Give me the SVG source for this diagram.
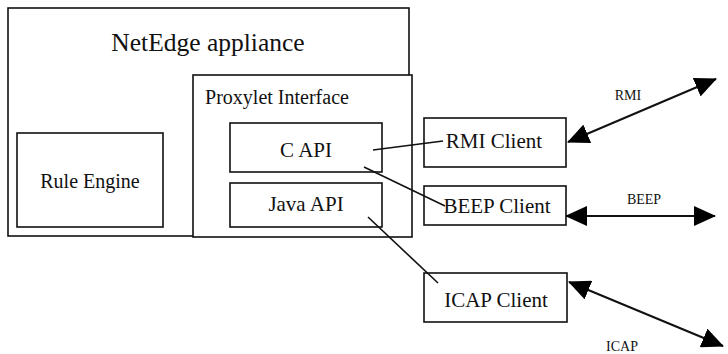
<svg xmlns="http://www.w3.org/2000/svg" width="728" height="354" viewBox="0 0 728 354">
  <defs>
    <marker id="arrow" viewBox="0 0 22 20" refX="21" refY="10" markerWidth="22" markerHeight="20" markerUnits="userSpaceOnUse" orient="auto-start-reverse">
      <path d="M0,0 L22,10 L0,20 Z" fill="#000"/>
    </marker>
    <style>
      .box { fill: #fff; stroke: #111; stroke-width: 1.6; }
      .lbl { font-family: "Liberation Serif", "Times New Roman", serif; fill: #111; text-anchor: middle; }
      .line { stroke: #111; stroke-width: 1.6; fill: none; }
      .proto { stroke: #111; stroke-width: 2; fill: none; marker-start: url(#arrow); marker-end: url(#arrow); }
      .small { font-size: 14px; }
    </style>
  </defs>

  <g id="netedge-appliance">
    <rect class="box" x="8" y="8" width="401" height="228"/>
    <text class="lbl" x="208" y="51" font-size="25.5">NetEdge appliance</text>
  </g>

  <g id="rule-engine">
    <rect class="box" x="17" y="133" width="146" height="94"/>
    <text class="lbl" x="90" y="188" font-size="20">Rule Engine</text>
  </g>

  <g id="proxylet-interface">
    <rect class="box" x="193" y="75" width="219" height="162"/>
    <text class="lbl" x="277" y="104" font-size="20">Proxylet Interface</text>
  </g>

  <g id="c-api">
    <rect class="box" x="230" y="123" width="152" height="49"/>
    <text class="lbl" x="306" y="157" font-size="21">C API</text>
  </g>

  <g id="java-api">
    <rect class="box" x="230" y="183" width="152" height="44"/>
    <text class="lbl" x="306" y="211" font-size="21">Java API</text>
  </g>

  <g id="rmi-client">
    <rect class="box" x="424" y="118" width="142" height="49"/>
    <text class="lbl" x="494" y="148" font-size="21">RMI Client</text>
  </g>

  <g id="beep-client">
    <rect class="box" x="424" y="186" width="142" height="39"/>
    <text class="lbl" x="497" y="213" font-size="21">BEEP Client</text>
  </g>

  <g id="icap-client">
    <rect class="box" x="424" y="273" width="143" height="49"/>
    <text class="lbl" x="496" y="307" font-size="21">ICAP Client</text>
  </g>

  <g id="connectors">
    <line class="line" x1="373" y1="150" x2="443" y2="141"/>
    <line class="line" x1="364" y1="167" x2="445" y2="206"/>
    <line class="line" x1="368" y1="217" x2="438" y2="283"/>
    <line class="proto" x1="568" y1="142" x2="716" y2="79"/>
    <line class="proto" x1="566" y1="216" x2="715" y2="216"/>
    <line class="proto" x1="569" y1="282" x2="723" y2="346"/>
    <text class="lbl small" x="628" y="100">RMI</text>
    <text class="lbl small" x="644" y="204">BEEP</text>
    <text class="lbl small" x="622" y="351">ICAP</text>
  </g>
</svg>
